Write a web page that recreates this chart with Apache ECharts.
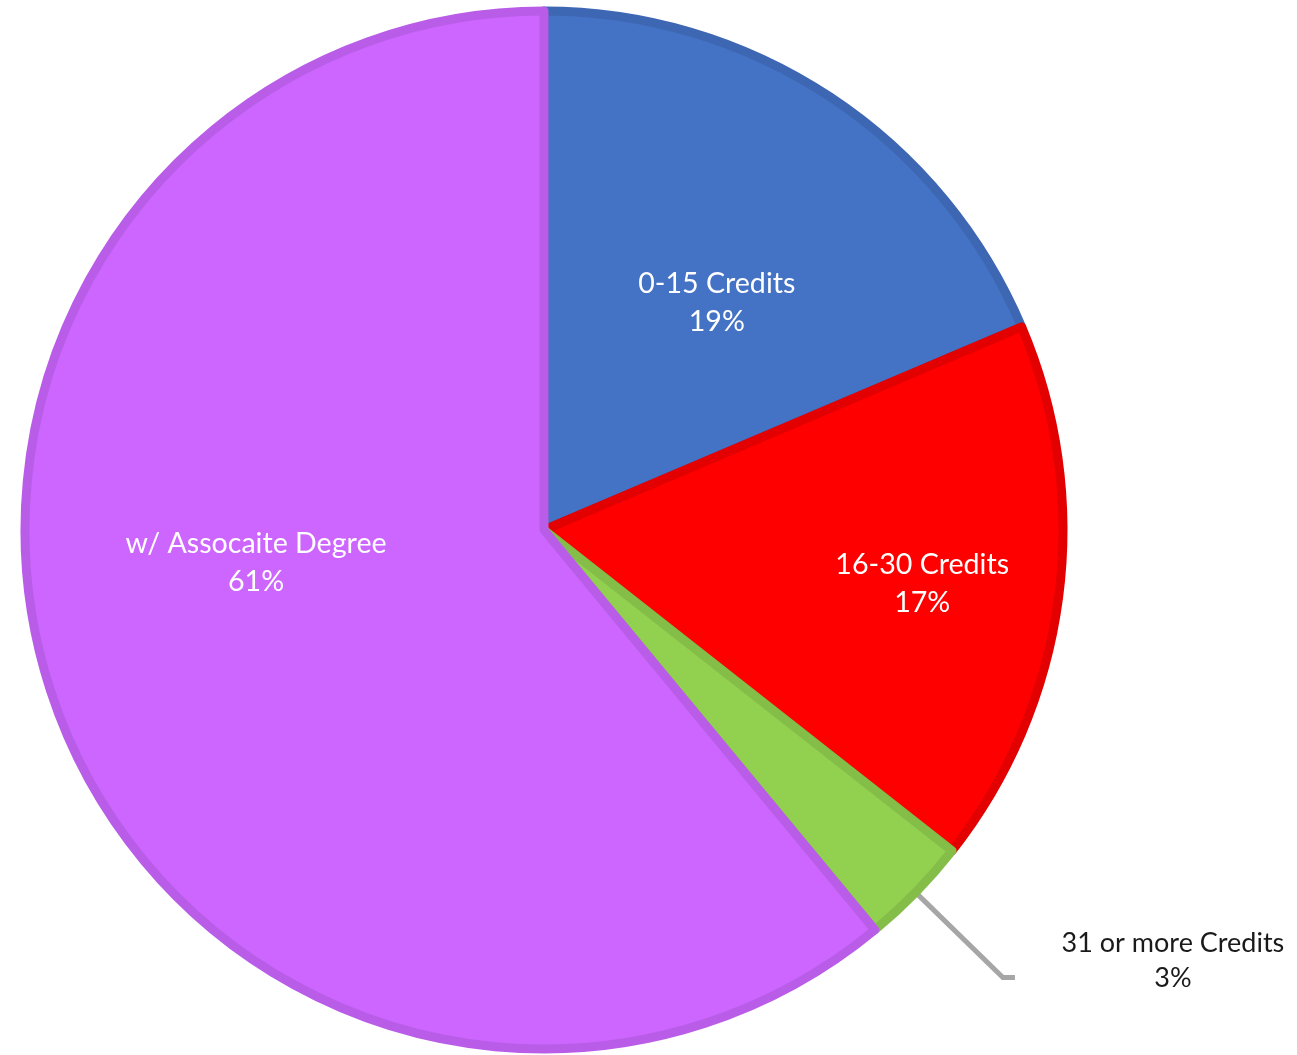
<!DOCTYPE html>
<html>
<head>
<meta charset="utf-8">
<script src="https://cdn.jsdelivr.net/npm/echarts@6/dist/echarts.min.js"></script>
<style>
html,body{margin:0;padding:0;background:#fff;}
#chart{width:1297px;height:1055px;}
</style>
</head>
<body>
<div id="chart"></div>
<script>
const categories = ['0-15 Credits', '16-30 Credits', '31 or more Credits', 'w/ Assocaite Degree'];
const values = [18.6, 17.0, 3.4, 61.0];

const fillColors = ['#4472C4', '#FF0000', '#92D050', '#CC66FF'];
const borderColors = ['#3E67B3', '#E30000', '#84BD48', '#B95DE8'];
const labelOffsets = [[28, -8], [118, 19], [0, 0], [-41, -56]];

const FONT = 'Lato, "Open Sans", sans-serif';

const data = categories.map((name, i) => {
  const item = {
    name: name,
    value: values[i],
    itemStyle: { color: fillColors[i], borderColor: borderColors[i], borderWidth: 9 }
  };
  if (i === 2) {
    item.label = {
      show: true,
      position: 'outside',
      color: '#1a1a1a',
      lineHeight: 35,
      padding: [0, 0, 34, 40],
      formatter: (p) => '{a|' + p.name + '}\n{a|' + Math.round(p.percent) + '%}',
      rich: {
        a: { fontFamily: FONT, fontSize: 27, color: '#1a1a1a', width: 226, align: 'center', lineHeight: 35, height: 35 }
      }
    };
    item.labelLine = { show: true, length: 122, length2: 12, lineStyle: { color: '#A6A6A6', width: 5 } };
  }
  return item;
});

const chart = echarts.init(document.getElementById('chart'), null, { renderer: 'canvas' });
chart.setOption({
  animation: false,
  backgroundColor: '#ffffff',
  series: [{
    type: 'pie',
    center: [544, 530],
    radius: [0, 519],
    startAngle: 90,
    clockwise: true,
    avoidLabelOverlap: false,
    emphasis: { disabled: true },
    label: {
      show: true,
      position: 'inside',
      color: '#ffffff',
      fontFamily: FONT,
      fontSize: 28.6,
      lineHeight: 38,
      align: 'center',
      formatter: (p) => p.name + '\n' + Math.round(p.percent) + '%'
    },
    labelLine: { show: true, length: 122, length2: 12, lineStyle: { color: '#A6A6A6', width: 5 } },
    labelLayout: (params) => {
      if (params.dataIndex === 2) return;
      const o = labelOffsets[params.dataIndex];
      return { dx: o[0], dy: o[1] };
    },
    data: data
  }]
});
</script>
</body>
</html>
